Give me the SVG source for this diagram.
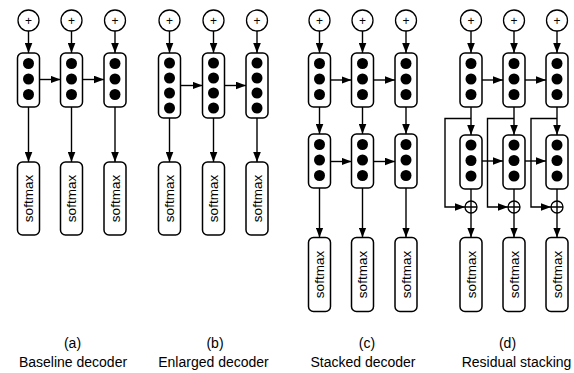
<svg xmlns="http://www.w3.org/2000/svg" width="574" height="373" viewBox="0 0 574 373">
<style>
.bx{fill:#fff;stroke:#000;stroke-width:1.5}
.dot{fill:#000}
.cir{fill:#fff;stroke:#000;stroke-width:1.3}
.ln{fill:none;stroke:#000;stroke-width:1.4}
.pl{font-family:"Liberation Sans",Arial,sans-serif;font-size:12px;text-anchor:middle;fill:#000}
.sm{font-family:"Liberation Sans",Arial,sans-serif;font-size:13.5px;text-anchor:middle;fill:#000}
.lb{font-family:"Liberation Sans",Arial,sans-serif;font-size:14px;text-anchor:middle;fill:#000}
</style>
<defs>
<marker id="ah" markerUnits="userSpaceOnUse" markerWidth="10" markerHeight="8" refX="10" refY="4" orient="auto"><path d="M0,0.2 L10,4 L0,7.8 z" fill="#000"/></marker>
</defs>

<!-- Panel a -->
<g id="a-add1"><circle class="cir" cx="28.5" cy="20.5" r="10.5"/><text class="pl" x="28.5" y="24.6">+</text></g>
<g id="a-add2"><circle class="cir" cx="71.5" cy="20.5" r="10.5"/><text class="pl" x="71.5" y="24.6">+</text></g>
<g id="a-add3"><circle class="cir" cx="115" cy="20.5" r="10.5"/><text class="pl" x="115" y="24.6">+</text></g>
<g id="a-h1"><rect class="bx" x="17.5" y="53" width="22" height="54" rx="5"/><circle class="dot" cx="28.5" cy="63.5" r="5.5"/><circle class="dot" cx="28.5" cy="79" r="5.5"/><circle class="dot" cx="28.5" cy="94.5" r="5.5"/></g>
<g id="a-h2"><rect class="bx" x="60.5" y="53" width="22" height="54" rx="5"/><circle class="dot" cx="71.5" cy="63.5" r="5.5"/><circle class="dot" cx="71.5" cy="79" r="5.5"/><circle class="dot" cx="71.5" cy="94.5" r="5.5"/></g>
<g id="a-h3"><rect class="bx" x="104" y="53" width="22" height="54" rx="5"/><circle class="dot" cx="115" cy="63.5" r="5.5"/><circle class="dot" cx="115" cy="79" r="5.5"/><circle class="dot" cx="115" cy="94.5" r="5.5"/></g>
<g id="a-s1"><rect class="bx" x="17.5" y="162" width="22" height="73" rx="5"/><text class="sm" transform="translate(28.5,198.5) rotate(-90)" y="4.8">softmax</text></g>
<g id="a-s2"><rect class="bx" x="60.5" y="162" width="22" height="73" rx="5"/><text class="sm" transform="translate(71.5,198.5) rotate(-90)" y="4.8">softmax</text></g>
<g id="a-s3"><rect class="bx" x="104" y="162" width="22" height="73" rx="5"/><text class="sm" transform="translate(115,198.5) rotate(-90)" y="4.8">softmax</text></g>

<!-- Panel b -->
<g id="b-add1"><circle class="cir" cx="169.5" cy="20.5" r="10.5"/><text class="pl" x="169.5" y="24.6">+</text></g>
<g id="b-add2"><circle class="cir" cx="213.5" cy="20.5" r="10.5"/><text class="pl" x="213.5" y="24.6">+</text></g>
<g id="b-add3"><circle class="cir" cx="257" cy="20.5" r="10.5"/><text class="pl" x="257" y="24.6">+</text></g>
<g id="b-h1"><rect class="bx" x="158.5" y="53" width="22" height="65" rx="5"/><circle class="dot" cx="169.5" cy="63" r="5.5"/><circle class="dot" cx="169.5" cy="78" r="5.5"/><circle class="dot" cx="169.5" cy="93" r="5.5"/><circle class="dot" cx="169.5" cy="108" r="5.5"/></g>
<g id="b-h2"><rect class="bx" x="202.5" y="53" width="22" height="65" rx="5"/><circle class="dot" cx="213.5" cy="63" r="5.5"/><circle class="dot" cx="213.5" cy="78" r="5.5"/><circle class="dot" cx="213.5" cy="93" r="5.5"/><circle class="dot" cx="213.5" cy="108" r="5.5"/></g>
<g id="b-h3"><rect class="bx" x="246" y="53" width="22" height="65" rx="5"/><circle class="dot" cx="257" cy="63" r="5.5"/><circle class="dot" cx="257" cy="78" r="5.5"/><circle class="dot" cx="257" cy="93" r="5.5"/><circle class="dot" cx="257" cy="108" r="5.5"/></g>
<g id="b-s1"><rect class="bx" x="158.5" y="162" width="22" height="73" rx="5"/><text class="sm" transform="translate(169.5,198.5) rotate(-90)" y="4.8">softmax</text></g>
<g id="b-s2"><rect class="bx" x="202.5" y="162" width="22" height="73" rx="5"/><text class="sm" transform="translate(213.5,198.5) rotate(-90)" y="4.8">softmax</text></g>
<g id="b-s3"><rect class="bx" x="246" y="162" width="22" height="73" rx="5"/><text class="sm" transform="translate(257,198.5) rotate(-90)" y="4.8">softmax</text></g>

<!-- Panel c -->
<g id="c-add1"><circle class="cir" cx="319.5" cy="20.5" r="10.5"/><text class="pl" x="319.5" y="24.6">+</text></g>
<g id="c-add2"><circle class="cir" cx="362.5" cy="20.5" r="10.5"/><text class="pl" x="362.5" y="24.6">+</text></g>
<g id="c-add3"><circle class="cir" cx="406" cy="20.5" r="10.5"/><text class="pl" x="406" y="24.6">+</text></g>
<g id="c-h1"><rect class="bx" x="308.5" y="53" width="22" height="54" rx="5"/><circle class="dot" cx="319.5" cy="63.5" r="5.5"/><circle class="dot" cx="319.5" cy="79" r="5.5"/><circle class="dot" cx="319.5" cy="94.5" r="5.5"/></g>
<g id="c-h2"><rect class="bx" x="351.5" y="53" width="22" height="54" rx="5"/><circle class="dot" cx="362.5" cy="63.5" r="5.5"/><circle class="dot" cx="362.5" cy="79" r="5.5"/><circle class="dot" cx="362.5" cy="94.5" r="5.5"/></g>
<g id="c-h3"><rect class="bx" x="395" y="53" width="22" height="54" rx="5"/><circle class="dot" cx="406" cy="63.5" r="5.5"/><circle class="dot" cx="406" cy="79" r="5.5"/><circle class="dot" cx="406" cy="94.5" r="5.5"/></g>
<g id="c-g1"><rect class="bx" x="308.5" y="134" width="22" height="54" rx="5"/><circle class="dot" cx="319.5" cy="144.5" r="5.5"/><circle class="dot" cx="319.5" cy="160" r="5.5"/><circle class="dot" cx="319.5" cy="175.5" r="5.5"/></g>
<g id="c-g2"><rect class="bx" x="351.5" y="134" width="22" height="54" rx="5"/><circle class="dot" cx="362.5" cy="144.5" r="5.5"/><circle class="dot" cx="362.5" cy="160" r="5.5"/><circle class="dot" cx="362.5" cy="175.5" r="5.5"/></g>
<g id="c-g3"><rect class="bx" x="395" y="134" width="22" height="54" rx="5"/><circle class="dot" cx="406" cy="144.5" r="5.5"/><circle class="dot" cx="406" cy="160" r="5.5"/><circle class="dot" cx="406" cy="175.5" r="5.5"/></g>
<g id="c-s1"><rect class="bx" x="308.5" y="237.5" width="22" height="74" rx="5"/><text class="sm" transform="translate(319.5,274.5) rotate(-90)" y="4.8">softmax</text></g>
<g id="c-s2"><rect class="bx" x="351.5" y="237.5" width="22" height="74" rx="5"/><text class="sm" transform="translate(362.5,274.5) rotate(-90)" y="4.8">softmax</text></g>
<g id="c-s3"><rect class="bx" x="395" y="237.5" width="22" height="74" rx="5"/><text class="sm" transform="translate(406,274.5) rotate(-90)" y="4.8">softmax</text></g>

<!-- Panel d -->
<g id="d-add1"><circle class="cir" cx="471" cy="20.5" r="10.5"/><text class="pl" x="471" y="24.6">+</text></g>
<g id="d-add2"><circle class="cir" cx="514" cy="20.5" r="10.5"/><text class="pl" x="514" y="24.6">+</text></g>
<g id="d-add3"><circle class="cir" cx="557" cy="20.5" r="10.5"/><text class="pl" x="557" y="24.6">+</text></g>
<g id="d-h1"><rect class="bx" x="460" y="53" width="22" height="54" rx="5"/><circle class="dot" cx="471" cy="63.5" r="5.5"/><circle class="dot" cx="471" cy="79" r="5.5"/><circle class="dot" cx="471" cy="94.5" r="5.5"/></g>
<g id="d-h2"><rect class="bx" x="503" y="53" width="22" height="54" rx="5"/><circle class="dot" cx="514" cy="63.5" r="5.5"/><circle class="dot" cx="514" cy="79" r="5.5"/><circle class="dot" cx="514" cy="94.5" r="5.5"/></g>
<g id="d-h3"><rect class="bx" x="546" y="53" width="22" height="54" rx="5"/><circle class="dot" cx="557" cy="63.5" r="5.5"/><circle class="dot" cx="557" cy="79" r="5.5"/><circle class="dot" cx="557" cy="94.5" r="5.5"/></g>
<g id="d-g1"><rect class="bx" x="460" y="135" width="22" height="54" rx="5"/><circle class="dot" cx="471" cy="145" r="5.5"/><circle class="dot" cx="471" cy="160.5" r="5.5"/><circle class="dot" cx="471" cy="176" r="5.5"/></g>
<g id="d-g2"><rect class="bx" x="503" y="135" width="22" height="54" rx="5"/><circle class="dot" cx="514" cy="145" r="5.5"/><circle class="dot" cx="514" cy="160.5" r="5.5"/><circle class="dot" cx="514" cy="176" r="5.5"/></g>
<g id="d-g3"><rect class="bx" x="546" y="135" width="22" height="54" rx="5"/><circle class="dot" cx="557" cy="145" r="5.5"/><circle class="dot" cx="557" cy="160.5" r="5.5"/><circle class="dot" cx="557" cy="176" r="5.5"/></g>
<g id="d-sum1"><circle class="cir" cx="471" cy="207" r="6"/><path class="ln" d="M465,207 H477 M471,201 V213"/></g>
<g id="d-sum2"><circle class="cir" cx="514" cy="207" r="6"/><path class="ln" d="M508,207 H520 M514,201 V213"/></g>
<g id="d-sum3"><circle class="cir" cx="557" cy="207" r="6"/><path class="ln" d="M551,207 H563 M557,201 V213"/></g>
<g id="d-s1"><rect class="bx" x="460" y="237.5" width="22" height="74" rx="5"/><text class="sm" transform="translate(471,274.5) rotate(-90)" y="4.8">softmax</text></g>
<g id="d-s2"><rect class="bx" x="503" y="237.5" width="22" height="74" rx="5"/><text class="sm" transform="translate(514,274.5) rotate(-90)" y="4.8">softmax</text></g>
<g id="d-s3"><rect class="bx" x="546" y="237.5" width="22" height="74" rx="5"/><text class="sm" transform="translate(557,274.5) rotate(-90)" y="4.8">softmax</text></g>

<g id="connectors">
<!-- a -->
<path class="ln" marker-end="url(#ah)" d="M28.5,31 V53"/>
<path class="ln" marker-end="url(#ah)" d="M71.5,31 V53"/>
<path class="ln" marker-end="url(#ah)" d="M115,31 V53"/>
<path class="ln" marker-end="url(#ah)" d="M39.5,79.5 H60.5"/>
<path class="ln" marker-end="url(#ah)" d="M82.5,79.5 H104"/>
<path class="ln" marker-end="url(#ah)" d="M28.5,107 V162"/>
<path class="ln" marker-end="url(#ah)" d="M71.5,107 V162"/>
<path class="ln" marker-end="url(#ah)" d="M115,107 V162"/>
<!-- b -->
<path class="ln" marker-end="url(#ah)" d="M169.5,31 V53"/>
<path class="ln" marker-end="url(#ah)" d="M213.5,31 V53"/>
<path class="ln" marker-end="url(#ah)" d="M257,31 V53"/>
<path class="ln" marker-end="url(#ah)" d="M180.5,85.5 H202.5"/>
<path class="ln" marker-end="url(#ah)" d="M224.5,85.5 H246"/>
<path class="ln" marker-end="url(#ah)" d="M169.5,118 V162"/>
<path class="ln" marker-end="url(#ah)" d="M213.5,118 V162"/>
<path class="ln" marker-end="url(#ah)" d="M257,118 V162"/>
<!-- c -->
<path class="ln" marker-end="url(#ah)" d="M319.5,31 V53"/>
<path class="ln" marker-end="url(#ah)" d="M362.5,31 V53"/>
<path class="ln" marker-end="url(#ah)" d="M406,31 V53"/>
<path class="ln" marker-end="url(#ah)" d="M330.5,80 H351.5"/>
<path class="ln" marker-end="url(#ah)" d="M373.5,80 H395"/>
<path class="ln" marker-end="url(#ah)" d="M319.5,107 V134"/>
<path class="ln" marker-end="url(#ah)" d="M362.5,107 V134"/>
<path class="ln" marker-end="url(#ah)" d="M406,107 V134"/>
<path class="ln" marker-end="url(#ah)" d="M330.5,161.5 H351.5"/>
<path class="ln" marker-end="url(#ah)" d="M373.5,161.5 H395"/>
<path class="ln" marker-end="url(#ah)" d="M319.5,188 V237.5"/>
<path class="ln" marker-end="url(#ah)" d="M362.5,188 V237.5"/>
<path class="ln" marker-end="url(#ah)" d="M406,188 V237.5"/>
<!-- d -->
<path class="ln" marker-end="url(#ah)" d="M471,31 V53"/>
<path class="ln" marker-end="url(#ah)" d="M514,31 V53"/>
<path class="ln" marker-end="url(#ah)" d="M557,31 V53"/>
<path class="ln" marker-end="url(#ah)" d="M482,80 H503"/>
<path class="ln" marker-end="url(#ah)" d="M525,80 H546"/>
<path class="ln" marker-end="url(#ah)" d="M471,107 V135"/>
<path class="ln" marker-end="url(#ah)" d="M514,107 V135"/>
<path class="ln" marker-end="url(#ah)" d="M557,107 V135"/>
<path class="ln" marker-end="url(#ah)" d="M471,118.5 H445 V207 H465"/>
<path class="ln" marker-end="url(#ah)" d="M514,118.5 H487.5 V207 H508"/>
<path class="ln" marker-end="url(#ah)" d="M557,118.5 H531 V207 H551"/>
<path class="ln" marker-end="url(#ah)" d="M482,161 H503"/>
<path class="ln" marker-end="url(#ah)" d="M525,161 H546"/>
<path class="ln" d="M471,189 V201"/>
<path class="ln" d="M514,189 V201"/>
<path class="ln" d="M557,189 V201"/>
<path class="ln" marker-end="url(#ah)" d="M471,213 V237.5"/>
<path class="ln" marker-end="url(#ah)" d="M514,213 V237.5"/>
<path class="ln" marker-end="url(#ah)" d="M557,213 V237.5"/>
</g>

<g id="labels">
<text class="lb" x="72.5" y="348">(a)</text>
<text class="lb" x="73" y="367">Baseline decoder</text>
<text class="lb" x="215" y="348">(b)</text>
<text class="lb" x="213.5" y="367">Enlarged decoder</text>
<text class="lb" x="367" y="348">(c)</text>
<text class="lb" x="363" y="367">Stacked decoder</text>
<text class="lb" x="507.5" y="348">(d)</text>
<text class="lb" x="516.5" y="367">Residual stacking</text>
</g>
</svg>
